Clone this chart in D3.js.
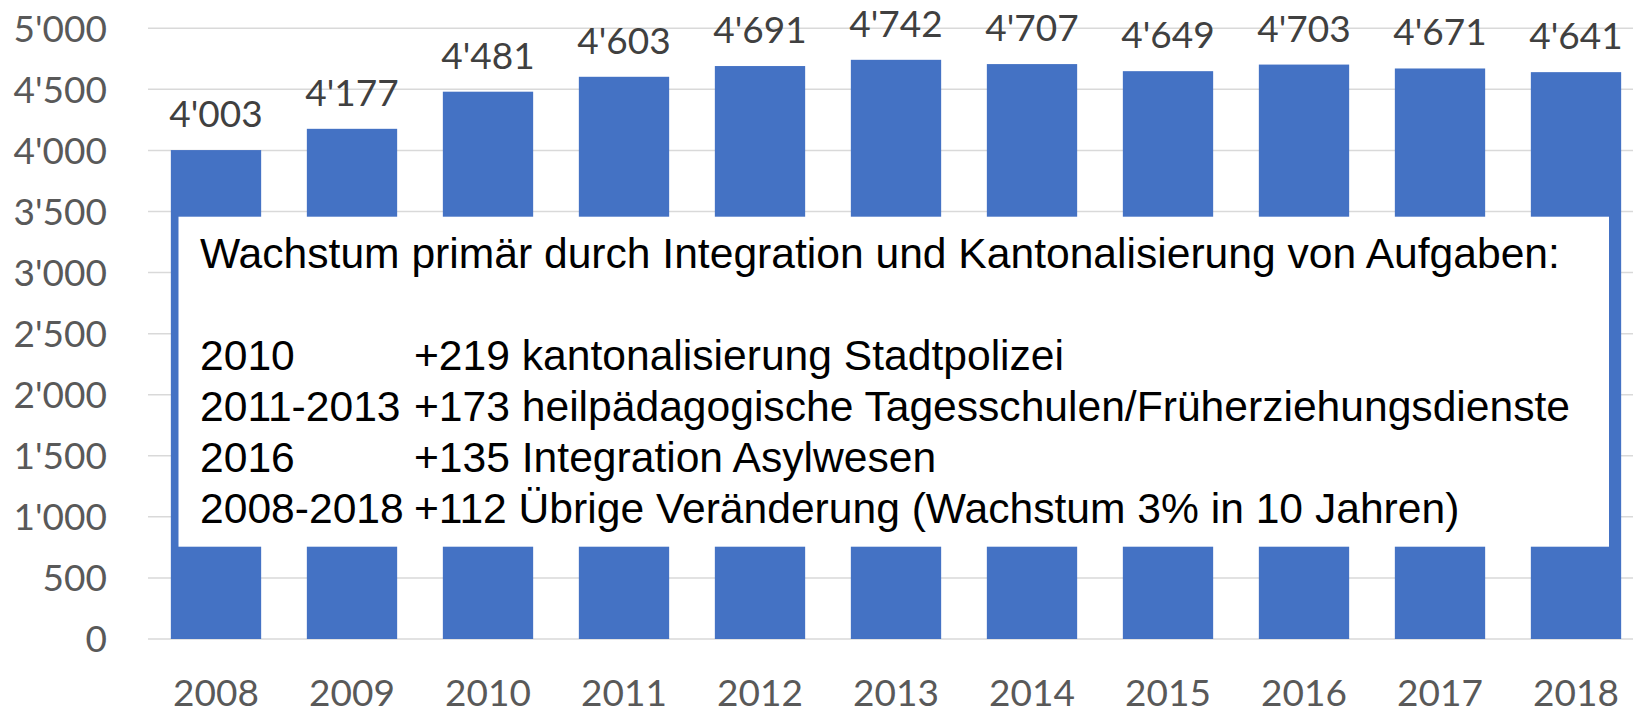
<!DOCTYPE html>
<html>
<head>
<meta charset="utf-8">
<script src="https://cdn.jsdelivr.net/npm/d3@7"></script>
<style>
  html, body { margin: 0; padding: 0; background: #fff; overflow: hidden; }
  svg { display: block; }
</style>
</head>
<body>
<div id="chart"></div>
<script>
// chart data
const years = ["2008", "2009", "2010", "2011", "2012", "2013", "2014", "2015", "2016", "2017", "2018"];
const staff = [4003, 4177, 4481, 4603, 4691, 4742, 4707, 4649, 4703, 4671, 4641];
const yTicks = [0, 500, 1000, 1500, 2000, 2500, 3000, 3500, 4000, 4500, 5000];

// text box contents
const boxTitle = "Wachstum primär durch Integration und Kantonalisierung von Aufgaben:";
const notePeriods = ["2010", "2011-2013", "2016", "2008-2018"];
const noteTexts = [
  "+219 kantonalisierung Stadtpolizei",
  "+173 heilpädagogische Tagesschulen/Früherziehungsdienste",
  "+135 Integration Asylwesen",
  "+112 Übrige Veränderung (Wachstum 3% in 10 Jahren)"
];

const width = 1633, height = 710;
const numFont = "Lato, 'Open Sans', sans-serif";
const boxFont = "'Liberation Sans', Arial, sans-serif";

const fmt = d3.formatLocale({ decimal: ".", thousands: "'", grouping: [3], currency: ["", ""] }).format(",");

const svg = d3.select("#chart")
  .append("svg")
  .attr("width", width)
  .attr("height", height);

const xScale = d3.scaleBand()
  .domain(years)
  .range([148, 1644])
  .paddingInner(0.336)
  .paddingOuter(0.168);

const yScale = d3.scaleLinear()
  .domain([0, 5000])
  .range([639, 28.3]);

// gridlines
svg.append("g")
  .selectAll("line")
  .data(yTicks)
  .join("line")
  .attr("x1", 148)
  .attr("x2", 1644)
  .attr("y1", d => yScale(d))
  .attr("y2", d => yScale(d))
  .attr("stroke", "#d9d9d9")
  .attr("stroke-width", 1.5);

// y tick labels
svg.append("g")
  .selectAll("text")
  .data(yTicks)
  .join("text")
  .attr("x", 107)
  .attr("y", d => yScale(d) + 13.4)
  .attr("text-anchor", "end")
  .attr("fill", "#595959")
  .style("font-family", numFont)
  .style("font-size", "37px")
  .text(d => fmt(d));

// bars
const data = years.map((y, i) => ({ year: y, value: staff[i] }));

svg.append("g")
  .selectAll("rect")
  .data(data)
  .join("rect")
  .attr("x", d => xScale(d.year))
  .attr("y", d => yScale(d.value))
  .attr("width", xScale.bandwidth())
  .attr("height", d => yScale(0) - yScale(d.value))
  .attr("fill", "#4472c4");

// value labels
svg.append("g")
  .selectAll("text")
  .data(data)
  .join("text")
  .attr("x", d => xScale(d.year) + xScale.bandwidth() / 2)
  .attr("y", d => yScale(d.value) - 23)
  .attr("text-anchor", "middle")
  .attr("fill", "#404040")
  .style("font-family", numFont)
  .style("font-size", "37px")
  .text(d => fmt(d.value));

// x labels
svg.append("g")
  .selectAll("text")
  .data(years)
  .join("text")
  .attr("x", d => xScale(d) + xScale.bandwidth() / 2)
  .attr("y", 706)
  .attr("text-anchor", "middle")
  .attr("fill", "#595959")
  .style("font-family", numFont)
  .style("font-size", "37px")
  .text(d => d);

// annotation box
const box = svg.append("g");

box.append("rect")
  .attr("x", 178.5)
  .attr("y", 216.7)
  .attr("width", 1609 - 178.5)
  .attr("height", 546.7 - 216.7)
  .attr("fill", "#fff");

box.append("text")
  .attr("x", 200)
  .attr("y", 268.3)
  .attr("fill", "#000")
  .style("font-family", boxFont)
  .style("font-size", "42.6px")
  .text(boxTitle);

notePeriods.forEach((p, i) => {
  const ty = 370 + i * 51.1;
  box.append("text")
    .attr("x", 200)
    .attr("y", ty)
    .attr("fill", "#000")
    .style("font-family", boxFont)
    .style("font-size", "42.6px")
    .text(p);
  box.append("text")
    .attr("x", 414)
    .attr("y", ty)
    .attr("fill", "#000")
    .style("font-family", boxFont)
    .style("font-size", "42.6px")
    .text(noteTexts[i]);
});
</script>
</body>
</html>
